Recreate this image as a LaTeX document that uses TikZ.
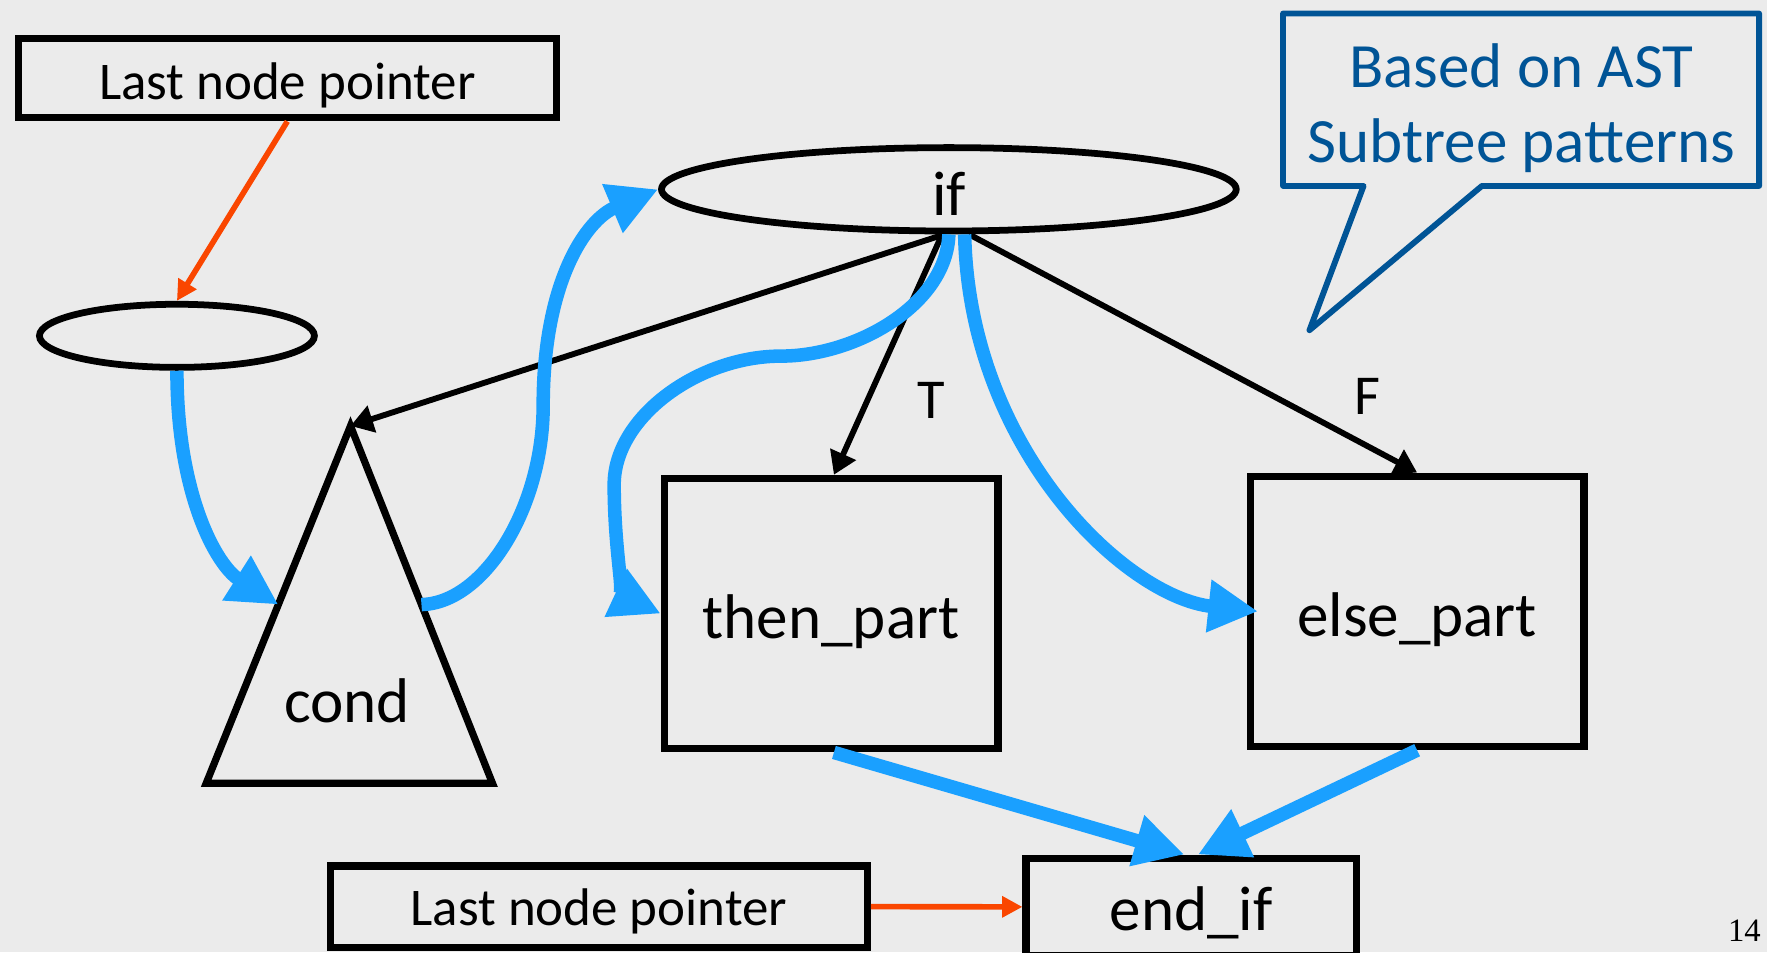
\documentclass[tikz,border=0pt]{standalone}
\usepackage{fontspec}
\setmainfont{Carlito}
\newfontfamily\pagefont{Liberation Serif}
\usetikzlibrary{shapes.geometric,arrows.meta,calc}
\definecolor{bg}{RGB}{235,235,235}
\definecolor{flowblue}{RGB}{26,160,255}
\definecolor{ptrorange}{RGB}{250,70,0}
\definecolor{calloutblue}{RGB}{0,84,150}

\begin{document}
\begin{tikzpicture}[x=0.5pt,y=-0.5pt,
  box/.style={draw=black,line width=3.2pt,rectangle,inner sep=0pt},
  oval/.style={draw=black,line width=3pt,ellipse,inner sep=0pt},
  big/.style={font=\fontsize{28pt}{33pt}\selectfont},
  ptrfont/.style={font=\fontsize{23.5pt}{28pt}\selectfont},
  lbl/.style={font=\fontsize{25pt}{30pt}\selectfont},
  edge/.style={draw=black,line width=2.6pt,-{Triangle[length=10pt,width=12pt]}},
  flow/.style={draw=flowblue,line width=6pt,-{Triangle[length=22pt,width=22pt]}},
  ptr/.style={draw=ptrorange,line width=2.5pt,-{Triangle[length=9pt,width=9pt]}},
]
% canvas
\fill[bg] (0,0) rectangle (1568,845);
\clip (0,0) rectangle (1568,845);

% pointer boxes
\node[box,minimum width=238.5pt,minimum height=35pt] (ptrtop) at (255,69.5) {};
\node[ptrfont] (ptrtoplbl) at ([yshift=-3pt]ptrtop.center) {Last node pointer};
\node[box,minimum width=238pt,minimum height=36pt] (ptrbot) at (531.5,804.5) {};
\node[ptrfont] (ptrbotlbl) at ([yshift=-2pt]ptrbot.center) {Last node pointer};

% tree nodes
\node[oval,minimum width=122pt,minimum height=28pt] (head) at (157,298) {};
\node[oval,minimum width=255pt,minimum height=37pt] (if) at (842,168) {};
\node[big] (iflbl) at ([yshift=-2pt]if.center) {if};
\coordinate (apex) at (311,378);
\coordinate (bl) at (183,695);
\coordinate (br) at (437,695);
\draw[line width=3.2pt,line join=miter] (apex) -- (br) -- (bl) -- cycle;
\node[big] (cond) at (308,622) {cond};
\node[box,minimum width=148pt,minimum height=120pt] (then) at (737.5,544.5) {};
\node[big] (thenlbl) at ([yshift=-3.5pt]then.center) {then\_part};
\node[box,minimum width=148pt,minimum height=120pt] (else) at (1257.5,542.5) {};
\node[big] (elselbl) at ([yshift=-3.5pt]else.center) {else\_part};
\node[box,minimum width=146.5pt,minimum height=43.25pt] (endif) at (1057,804.75) {};
\node[big] (endiflbl) at ([yshift=-2.5pt]endif.center) {end\_if};

% callout
\draw[calloutblue,line width=2.6pt,line join=round]
  (1138.5,12) -- (1561,12) -- (1561,165) -- (1315,165) -- (1162,293) -- (1210,165) -- (1138.5,165) -- cycle;
\node[big,text=calloutblue,align=center] (note) at (1350,96) {Based on AST\\Subtree patterns};

% page number
\node[font=\pagefont\fontsize{14.5pt}{17pt}\selectfont] (pg) at (1548,826) {14};

% tree edges
\draw[edge] ([xshift=-2pt]if.south) -- (apex);
\draw[edge] ([xshift=-3pt]if.south) -- ([xshift=1.25pt]then.north);
\draw[edge] ([xshift=9pt]if.south) -- (else.north);
\node[lbl] (T) at (826,355) {T};
\node[lbl] (F) at (1213,352) {F};

% control flow
\coordinate (condL) at ($(apex)!0.5!(bl)$);
\coordinate (condR) at ($(apex)!0.5!(br)$);
\draw[flow] (head.south) .. controls +(0,110) and +(-55,-35) .. (condL);
\draw[flow] (condR) .. controls (430,535) and (482,450) .. (482,360)
  .. controls (482,250) and (520,195) .. (if.west);
\draw[flow] (if.south) .. controls (840,270) and (760,316) .. (693,316)
  .. controls (620,316) and (545,370) .. (545,430)
  .. controls (545,490) and (555,530) .. (then.west);
\draw[flow] ([xshift=7pt]if.south) .. controls (860,400) and (1000,530) .. ([xshift=5pt]else.west);
\draw[flow] ([xshift=1.25pt]then.south) -- ([xshift=-3pt]endif.north);
\draw[flow] (else.south) -- ([xshift=3pt]endif.north);

% last node pointers
\draw[ptr] (ptrtop.south) -- (head.north);
\draw[ptr] (ptrbot.east) -- (endif.west);
\end{tikzpicture}
\end{document}
